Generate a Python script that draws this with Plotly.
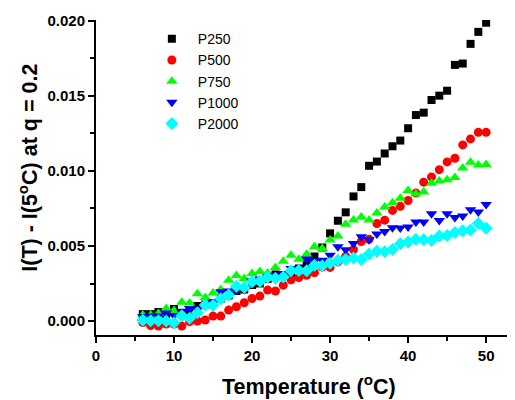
import plotly.graph_objects as go

temperature = list(range(6, 51))

p250 = [0.00046, 0.00046, 0.0006, 0.00046, 0.0008, 0.00055, 0.0007, 0.001, 0.0011, 0.0012,
        0.0015, 0.0017, 0.002, 0.0021, 0.0024, 0.0025, 0.0028, 0.0031, 0.003, 0.0032,
        0.0035, 0.0038, 0.0043, 0.0049, 0.00584, 0.00668, 0.00724, 0.0083, 0.00892, 0.01034,
        0.01062, 0.01116, 0.01164, 0.01202, 0.01284, 0.01372, 0.01388, 0.01472, 0.01501, 0.01534,
        0.01706, 0.01715, 0.01846, 0.01926, 0.01987]

p500 = [-0.0001, -0.0003, -0.00033, -0.0002, -0.0002, -0.00033, -0.00004, 0.0, 0.00007, 0.00033,
        0.00033, 0.00073, 0.00095, 0.00122, 0.0015, 0.00166, 0.00206, 0.002, 0.00239, 0.00275,
        0.0029, 0.00305, 0.00322, 0.0036, 0.00357, 0.00394, 0.0043, 0.00476, 0.0053, 0.00545,
        0.00649, 0.00672, 0.00737, 0.00764, 0.00803, 0.00852, 0.00925, 0.0096, 0.01008, 0.0106,
        0.01084, 0.01173, 0.01213, 0.01257, 0.01257]

p750 = [0.0004, 0.0004, 0.0005, 0.00084, 0.0007, 0.00125, 0.0012, 0.00182, 0.00157, 0.00186,
        0.0021, 0.00272, 0.00303, 0.00283, 0.00317, 0.0033, 0.0032, 0.00356, 0.00398, 0.00438,
        0.00412, 0.00445, 0.00494, 0.00483, 0.0054, 0.00566, 0.00645, 0.00673, 0.00693, 0.00673,
        0.0072, 0.0076, 0.00787, 0.00817, 0.0087, 0.00846, 0.00859, 0.00918, 0.00932, 0.00941,
        0.00956, 0.0102, 0.01058, 0.0104, 0.01042]

p1000 = [0.0003, 0.00033, 0.00033, 0.00053, 0.00037, 0.0006, 0.00084, 0.0008, 0.001, 0.00126,
         0.00195, 0.002, 0.00206, 0.0021, 0.00267, 0.0028, 0.00294, 0.00305, 0.00317, 0.0035,
         0.00343, 0.00413, 0.004, 0.00405, 0.00438, 0.00495, 0.00474, 0.00516, 0.00562, 0.00542,
         0.0058, 0.00597, 0.00622, 0.0062, 0.00626, 0.00659, 0.00659, 0.00715, 0.0067, 0.00715,
         0.00689, 0.007, 0.00742, 0.00726, 0.00776]

p2000 = [0.00005, 0.00002, 0.00002, 0.0, -0.00012, 0.00035, 0.00018, 0.00055, 0.00106, 0.00105,
         0.00148, 0.00173, 0.00232, 0.00224, 0.00261, 0.00265, 0.00292, 0.00285, 0.00294, 0.00335,
         0.00336, 0.00335, 0.00372, 0.00368, 0.00385, 0.00405, 0.0041, 0.0042, 0.0041, 0.00447,
         0.00465, 0.00462, 0.00476, 0.00514, 0.00527, 0.00545, 0.00542, 0.00537, 0.00567, 0.0057,
         0.0059, 0.00602, 0.00606, 0.0065, 0.00618]

series_names = ["P250", "P500", "P750", "P1000", "P2000"]
series_values = [p250, p500, p750, p1000, p2000]
colors = ["#000000", "#FF0000", "#00FF00", "#0000FF", "#00FFFF"]
symbols = ["square", "circle", "triangle-up", "triangle-down", "diamond"]
sizes = [8, 9, 10, 10, 10]

x_ticks = [0, 10, 20, 30, 40, 50]
y_ticks = [0.000, 0.005, 0.010, 0.015, 0.020]
y_tick_labels = ["0.000", "0.005", "0.010", "0.015", "0.020"]
x_title = "Temperature (<sup>o</sup>C)"
y_title = "I(T) - I(5<sup>o</sup>C) at q = 0.2"

fig = go.Figure()
for name, vals, c, s, sz in zip(series_names, series_values, colors, symbols, sizes):
    fig.add_trace(go.Scatter(
        x=temperature, y=vals, mode="markers", name=name,
        marker=dict(color=c, symbol=s, size=sz, line=dict(width=0)),
    ))

FAM = "Liberation Sans, Arial, sans-serif"
axis_font = dict(family=FAM, size=15, color="black", weight="bold")
title_font = dict(family=FAM, size=21.5, color="black", weight="bold")

# the page body adds an 8px offset, so the figure is 8px smaller and margins shifted
fig.update_layout(
    width=507, height=392,
    margin=dict(l=88, r=0, t=12, b=65),
    paper_bgcolor="white", plot_bgcolor="white",
    showlegend=True,
    legend=dict(
        x=0.119, y=0.99, xanchor="left", yanchor="top",
        bgcolor="rgba(0,0,0,0)", borderwidth=0,
        font=dict(family=FAM, size=14, color="black"),
        itemwidth=42, tracegroupgap=0,
    ),
    xaxis=dict(
        range=[0, 53.7], tickvals=x_ticks, ticks="outside", ticklen=6, tickwidth=2,
        tickcolor="black", showline=True, linewidth=2, linecolor="black",
        showgrid=False, zeroline=False, tickfont=axis_font, automargin=False,
        minor=dict(tickvals=[5, 15, 25, 35, 45], ticks="outside", ticklen=4, tickwidth=2, tickcolor="black"),
    ),
    yaxis=dict(
        range=[-0.00093, 0.02005], tickvals=y_ticks, ticktext=y_tick_labels,
        ticks="outside", ticklen=6, tickwidth=2, tickcolor="black",
        showline=True, linewidth=2, linecolor="black",
        showgrid=False, zeroline=False, tickfont=axis_font, automargin=False,
        minor=dict(tickvals=[0.0025, 0.0075, 0.0125, 0.0175], ticks="outside", ticklen=4, tickwidth=2, tickcolor="black"),
    ),
    annotations=[
        dict(text=x_title, xref="paper", yref="paper", x=0.508, y=-0.16,
             xanchor="center", yanchor="middle", showarrow=False, font=title_font),
        dict(text=y_title, xref="paper", yref="paper", x=-0.163, y=0.53,
             xanchor="center", yanchor="middle", textangle=-90, showarrow=False, font=title_font),
    ],
)

fig.write_html("out.html")
